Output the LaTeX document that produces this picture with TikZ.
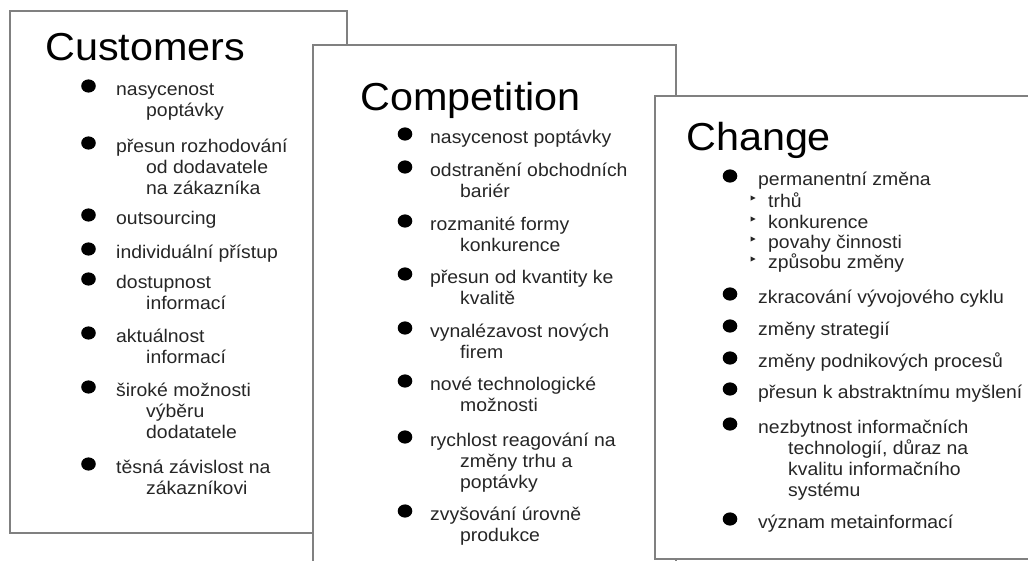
\documentclass[tikz,border=0pt]{standalone}
\usepackage{fontspec}
\setmainfont[FakeStretch=1.06]{Liberation Sans}
\definecolor{boxgray}{HTML}{808080}
\definecolor{textgray}{HTML}{262626}

% continuation line of an entry, indented under the first line
\newcommand\nextline[1]{\hbox{\hspace*{30pt}#1}}
% a bulleted entry: name, bullet offset, x, y (first baseline), first line, continuation lines
\newcommand\bulletentry[6]{%
  \node[entry] (#1) at (#3,#4) {\vtop{\hbox{#5}#6}};
  \fill ([xshift=-#2pt,yshift=9pt]#1.base west) ellipse [x radius=7.3pt, y radius=6.6pt];
}
% a sub-entry with a small triangle marker
\newcommand\subentry[4]{%
  \node[entry] (#1) at (#2,#3) {#4};
  \fill[textgray] ([xshift=-15pt,yshift=9pt]#1.base west) ++(-2.5pt,2.6pt) -- ++(5pt,-2.6pt) -- ++(-5pt,-2.6pt) -- cycle;
}

\begin{document}
\begin{tikzpicture}[x=1pt,y=-1pt,
  frame/.style={draw=boxgray, line width=1.4pt, fill=white},
  heading/.style={anchor=base west, inner sep=0pt, text=black,
    font=\fontsize{39}{45}\selectfont},
  entry/.style={anchor=base west, inner sep=0pt, text=textgray,
    font=\fontsize{18.3}{21.3}\selectfont}]
\useasboundingbox (0,0) rectangle (1028,560);
\clip (0,0) rectangle (1028,560);
\fill[white] (0,0) rectangle (1028,560);

% --- Customers ---
\draw[frame] (10,11) rectangle (347,533);
\node[heading] (customers) at (45,60) {Customers};
\bulletentry{c1}{27.5}{116}{95}{nasycenost}{\nextline{poptávky}}
\bulletentry{c2}{27.5}{116}{152}{přesun rozhodování}{\nextline{od dodavatele}\nextline{na zákazníka}}
\bulletentry{c3}{27.5}{116}{224}{outsourcing}{}
\bulletentry{c4}{27.5}{116}{258}{individuální přístup}{}
\bulletentry{c5}{27.5}{116}{288}{dostupnost}{\nextline{informací}}
\bulletentry{c6}{27.5}{116}{342}{aktuálnost}{\nextline{informací}}
\bulletentry{c7}{27.5}{116}{396}{široké možnosti}{\nextline{výběru}\nextline{dodatatele}}
\bulletentry{c8}{27.5}{116}{473}{těsná závislost na}{\nextline{zákazníkovi}}

% --- Competition ---
\draw[frame] (313,45) rectangle (676,580);
\node[heading] (competition) at (360,110) {Competition};
\bulletentry{p1}{25}{430}{143}{nasycenost poptávky}{}
\bulletentry{p2}{25}{430}{176}{odstranění obchodních}{\nextline{bariér}}
\bulletentry{p3}{25}{430}{230}{rozmanité formy}{\nextline{konkurence}}
\bulletentry{p4}{25}{430}{283}{přesun od kvantity ke}{\nextline{kvalitě}}
\bulletentry{p5}{25}{430}{337}{vynalézavost nových}{\nextline{firem}}
\bulletentry{p6}{25}{430}{390}{nové technologické}{\nextline{možnosti}}
\bulletentry{p7}{25}{430}{446}{rychlost reagování na}{\nextline{změny trhu a}\nextline{poptávky}}
\bulletentry{p8}{25}{430}{520}{zvyšování úrovně}{\nextline{produkce}}

% --- Change ---
\draw[frame] (655,96) rectangle (1045,559);
\node[heading] (change) at (686,150) {Change};
\bulletentry{h1}{28}{758}{185}{permanentní změna}{}
\subentry{s1}{768}{207}{trhů}
\subentry{s2}{768}{228}{konkurence}
\subentry{s3}{768}{248}{povahy činnosti}
\subentry{s4}{768}{268}{způsobu změny}
\bulletentry{h2}{28}{758}{303}{zkracování vývojového cyklu}{}
\bulletentry{h3}{28}{758}{335}{změny strategií}{}
\bulletentry{h4}{28}{758}{367}{změny podnikových procesů}{}
\bulletentry{h5}{28}{758}{398}{přesun k abstraktnímu myšlení}{}
\bulletentry{h6}{28}{758}{433}{nezbytnost informačních}{\nextline{technologií, důraz na}\nextline{kvalitu informačního}\nextline{systému}}
\bulletentry{h7}{28}{758}{528}{význam metainformací}{}
\end{tikzpicture}
\end{document}
